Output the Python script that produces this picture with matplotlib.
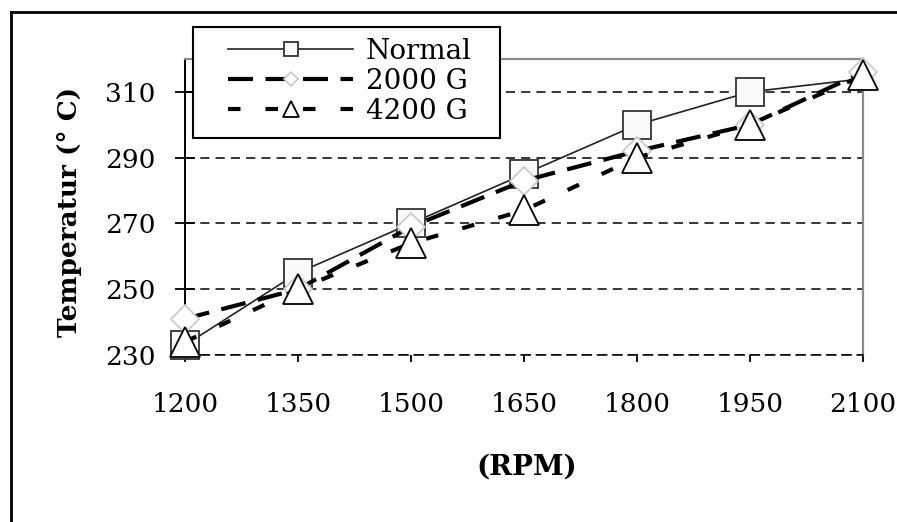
import matplotlib.pyplot as plt
from matplotlib.lines import Line2D
from matplotlib.patches import Rectangle

plt.rcParams['font.family'] = 'DejaVu Serif'

rpm = [1200, 1350, 1500, 1650, 1800, 1950, 2100]
temp_normal = [233, 255, 270, 285, 300, 310, 314]
temp_2000g = [241, 250, 269, 283, 292, 300, 316]
temp_4200g = [234, 250, 264, 274, 290, 300, 315]

x_ticks = [1200, 1350, 1500, 1650, 1800, 1950, 2100]
y_ticks = [230, 250, 270, 290, 310]

W, H = 897, 522
fig = plt.figure(figsize=(W/100, H/100), dpi=100)
ax = fig.add_axes([185/W, 1 - 355/H, (863 - 185)/W, (355 - 59)/H])

# horizontal dashed grid
for yv in y_ticks:
    ax.axhline(yv, color='black', lw=1.1, linestyle=(0, (6, 4)), zorder=1)

ax.plot(rpm, temp_normal, color='#222222', lw=1.2, marker='s', markersize=20,
        markevery=list(range(6)), markerfacecolor='#fafafa',
        markeredgecolor='#333333', markeredgewidth=1.3,
        label='Normal', clip_on=False, zorder=3)
ax.plot(rpm, temp_2000g, color='black', lw=3, linestyle=(0, (6, 3)), marker='D',
        markersize=14, markerfacecolor='white', markeredgecolor='#c8c8c8',
        markeredgewidth=1.2, label='2000 G', clip_on=False, zorder=4)
ax.plot(rpm, temp_4200g, color='black', lw=3, linestyle=(0, (3, 6)), marker='^',
        markersize=22, markerfacecolor='white', markeredgecolor='black',
        markeredgewidth=1.3, label='4200 G', clip_on=False, zorder=5)

ax.set_xlim(1200, 2100)
ax.set_ylim(230, 320)
ax.set_xticks(x_ticks)
ax.set_yticks(y_ticks)
ax.tick_params(axis='y', direction='inout', length=14, width=1.3, pad=14, labelsize=19)
ax.tick_params(axis='x', direction='out', length=5, width=1.3, pad=22, labelsize=19)

ax.spines['left'].set_color('black')
ax.spines['left'].set_linewidth(1.4)
ax.spines['bottom'].set_linestyle((0, (6, 4)))
ax.spines['bottom'].set_linewidth(1.1)
for side in ['top', 'right']:
    ax.spines[side].set_color('#8a8a8a')
    ax.spines[side].set_linewidth(1.6)

fig.text(70/W, 1 - 212/H, 'Temperatur (° C)', rotation=90, fontsize=19,
         fontweight='bold', ha='center', va='center')
fig.text(527/W, 1 - 467/H, '(RPM)', fontsize=20, fontweight='bold',
         ha='center', va='center')

# legend box drawn separately so the padding can be set per side
fig.add_artist(Rectangle((193/W, 1 - 138/H), (500 - 193)/W, (138 - 27)/H,
                         transform=fig.transFigure, facecolor='white',
                         edgecolor='black', lw=1.5, zorder=5))
handles, labels = ax.get_legend_handles_labels()
leg = fig.legend(handles, labels, loc='upper left', bbox_to_anchor=(228/W, 1 - 38/H),
                 borderaxespad=0, borderpad=0, fontsize=20, frameon=False,
                 handlelength=4.5, handletextpad=0.45, labelspacing=0.11,
                 markerscale=0.5)
leg.set_zorder(6)

# outer frame lines
fig.add_artist(Line2D([11/W, 11/W], [0, 1 - 12/H], transform=fig.transFigure,
                      color='black', lw=2))
fig.add_artist(Line2D([11/W, 1], [1 - 12/H, 1 - 12/H], transform=fig.transFigure,
                      color='black', lw=2))

fig.savefig('out.png', dpi=100)
